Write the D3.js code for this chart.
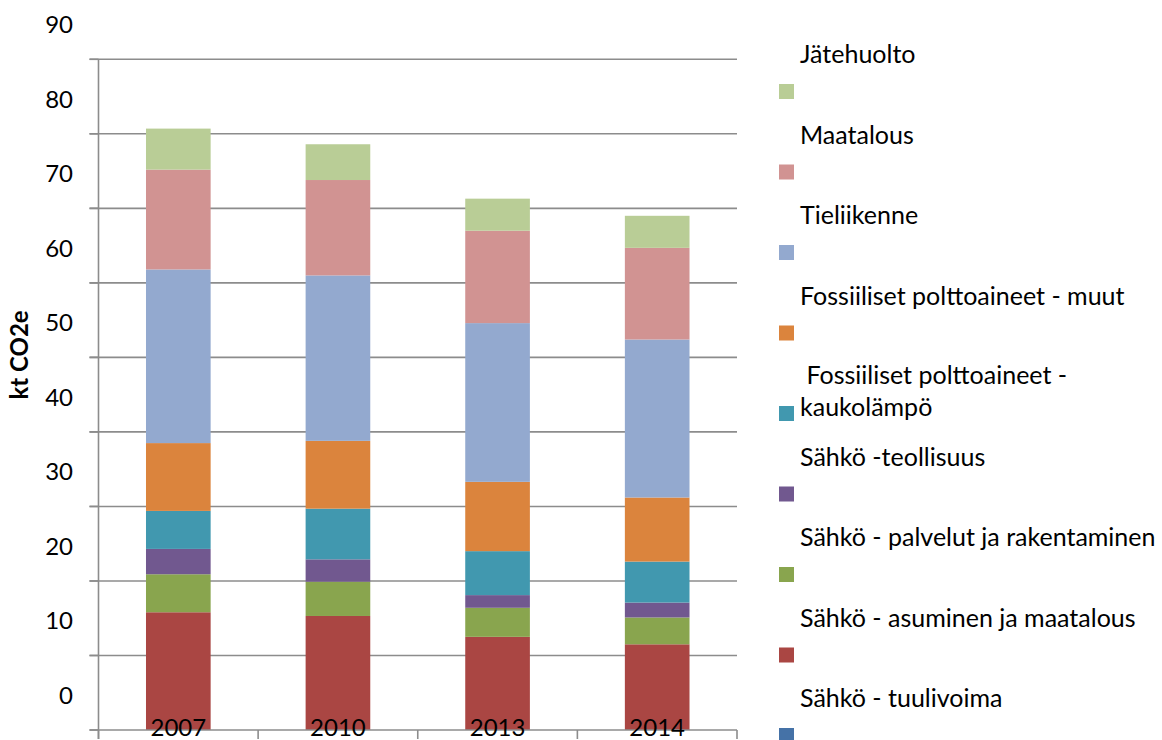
<!DOCTYPE html>
<html>
<head>
<meta charset="utf-8">
<script src="https://cdn.jsdelivr.net/npm/d3@7"></script>
<style>
  html, body { margin: 0; padding: 0; background: #ffffff; }
  svg { display: block; font-family: Lato, "Open Sans", sans-serif; }
</style>
</head>
<body>
<svg id="chart" width="1162" height="740"></svg>
<script>
// ---- Data (kt CO2e) ----
const years = ["2007", "2010", "2013", "2014"];
const seriesNames = [
  "Sähkö - tuulivoima",
  "Sähkö - asuminen ja maatalous",
  "Sähkö - palvelut ja rakentaminen",
  "Sähkö -teollisuus",
  "Fossiiliset polttoaineet - kaukolämpö",
  "Fossiiliset polttoaineet - muut",
  "Tieliikenne",
  "Maatalous",
  "Jätehuolto"
];
const tuulivoima   = [0, 0, 0, 0];
const asuminen     = [15.8, 15.3, 12.5, 11.5];
const palvelut     = [5.1, 4.6, 3.9, 3.6];
const teollisuus   = [3.4, 3.0, 1.7, 2.0];
const kaukolampo   = [5.1, 6.8, 5.9, 5.5];
const muut         = [9.1, 9.1, 9.3, 8.6];
const tieliikenne  = [23.3, 22.2, 21.3, 21.2];
const maatalous    = [13.4, 12.8, 12.4, 12.3];
const jatehuolto   = [5.5, 4.8, 4.3, 4.3];
const yTicks = [0, 10, 20, 30, 40, 50, 60, 70, 80, 90];
const yTitle = "kt CO2e";

const seriesValues = [tuulivoima, asuminen, palvelut, teollisuus, kaukolampo, muut, tieliikenne, maatalous, jatehuolto];
const colors = ["#4572A7", "#AA4643", "#89A54E", "#71588F", "#4198AF", "#DB843D", "#93A9CF", "#D19392", "#B9CD96"];
// legend label lines (the kaukolämpö label wraps over two lines)
const legendLines = [
  ["Sähkö - tuulivoima"],
  ["Sähkö - asuminen ja maatalous"],
  ["Sähkö - palvelut ja rakentaminen"],
  ["Sähkö -teollisuus"],
  ["\u00a0Fossiiliset polttoaineet -", "kaukolämpö"],
  ["Fossiiliset polttoaineet - muut"],
  ["Tieliikenne"],
  ["Maatalous"],
  ["Jätehuolto"]
];

// build table for stacking
const table = years.map((yr, i) => {
  const row = { year: yr };
  seriesNames.forEach((s, k) => { row[s] = seriesValues[k][i]; });
  return row;
});

const svg = d3.select("#chart");
const pL = 98.5, pR = 737, pT = 59.3, pB = 730;
const fontSize = 24;
const legendFont = 25;
const gridColor = "#8c8c8c";

const x = d3.scaleBand().domain(years).range([pL, pR]).paddingInner(0.595).paddingOuter(0.2975);
const y = d3.scaleLinear().domain([0, 90]).range([pB, pT]);

// gridlines
svg.append("g").selectAll("line").data(yTicks.filter(t => t > 0)).join("line")
  .attr("x1", pL - 9).attr("x2", pR)
  .attr("y1", d => y(d)).attr("y2", d => y(d))
  .attr("stroke", gridColor).attr("stroke-width", 1.6);

// stacked bars
const stack = d3.stack().keys(seriesNames);
const layers = stack(table);
svg.append("g").selectAll("g").data(layers).join("g")
  .attr("fill", (d, i) => colors[i])
  .selectAll("rect").data(d => d).join("rect")
  .attr("x", d => x(d.data.year))
  .attr("width", x.bandwidth())
  .attr("y", d => y(d[1]))
  .attr("height", d => Math.max(0, y(d[0]) - y(d[1])));

// y axis line and ticks
svg.append("line").attr("x1", pL).attr("x2", pL).attr("y1", pT).attr("y2", pB + 9)
  .attr("stroke", gridColor).attr("stroke-width", 1.6);
svg.append("g").selectAll("line").data(yTicks).join("line")
  .attr("x1", pL - 9).attr("x2", pL)
  .attr("y1", d => y(d)).attr("y2", d => y(d))
  .attr("stroke", gridColor).attr("stroke-width", 1.6);

// x axis line and category boundary ticks
svg.append("line").attr("x1", pL - 9).attr("x2", pR).attr("y1", pB).attr("y2", pB)
  .attr("stroke", gridColor).attr("stroke-width", 1.6);
const step = x.step();
const bounds = d3.range(years.length + 1).map(i => pL + i * step);
svg.append("g").selectAll("line").data(bounds).join("line")
  .attr("x1", d => d).attr("x2", d => d).attr("y1", pB).attr("y2", pB + 9)
  .attr("stroke", gridColor).attr("stroke-width", 1.6);

// y tick labels (drawn shifted up as in the reference)
svg.append("g").selectAll("text").data(yTicks).join("text")
  .attr("x", 73).attr("y", d => y(d) - 35.5)
  .attr("text-anchor", "end").attr("dominant-baseline", "central")
  .attr("font-size", fontSize).attr("fill", "#000")
  .text(d => d);

// year labels
svg.append("g").selectAll("text").data(years).join("text")
  .attr("x", d => x(d) + x.bandwidth() / 2).attr("y", 736)
  .attr("text-anchor", "middle")
  .attr("font-size", fontSize).attr("fill", "#000")
  .text(d => d);

// y axis title
svg.append("text")
  .attr("transform", "translate(28,355) rotate(-90)")
  .attr("text-anchor", "middle")
  .attr("font-size", fontSize).attr("font-weight", "bold").attr("fill", "#000")
  .text(yTitle);

// legend (reverse order, top = Jätehuolto)
const legendOrder = d3.range(seriesNames.length).reverse();
const legendStep = 80.5;
const lg = svg.append("g");
legendOrder.forEach((k, j) => {
  const swTop = 84 + j * legendStep;
  const lines = legendLines[k];
  lg.append("rect").attr("x", 779).attr("y", swTop).attr("width", 15).attr("height", 15).attr("fill", colors[k]);
  if (lines.length === 1) {
    lg.append("text").attr("x", 800).attr("y", swTop - 21)
      .attr("font-size", legendFont).attr("fill", "#000").text(lines[0]);
  } else {
    lg.append("text").attr("x", 800).attr("y", swTop - 22)
      .attr("font-size", legendFont).attr("fill", "#000").text(lines[0]);
    lg.append("text").attr("x", 800).attr("y", swTop + 10)
      .attr("font-size", legendFont).attr("fill", "#000").text(lines[1]);
  }
});
</script>
</body>
</html>
